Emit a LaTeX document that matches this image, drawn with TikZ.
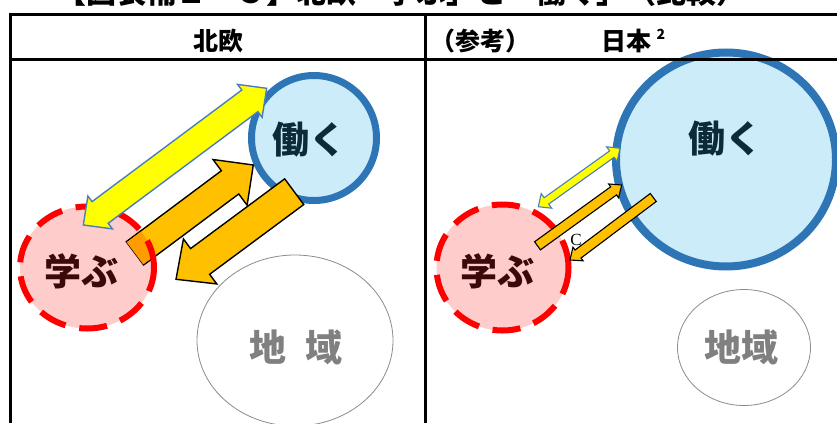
\documentclass[tikz,border=0pt]{standalone}
\usepackage{fontspec}
\newfontfamily\jp{Noto Sans CJK JP}
\newfontfamily\lserif{Liberation Serif}
\usetikzlibrary{calc,shapes.geometric}
\definecolor{workfill}{HTML}{CCECF9}
\definecolor{workline}{HTML}{2E75B6}
\definecolor{learnfill}{HTML}{FFCCCC}
\definecolor{learnline}{HTML}{FF0000}
\definecolor{arrowyel}{HTML}{FFFF00}
\definecolor{arrowyelline}{HTML}{4A7EBB}
\definecolor{arroworg}{HTML}{FFC000}
\definecolor{arroworgdark}{HTML}{FF9C00}
\definecolor{regionline}{HTML}{8C8C8C}
\definecolor{regiontext}{HTML}{808080}
\definecolor{worktext}{HTML}{0C2A3A}
\definecolor{learntext}{HTML}{3A0A0A}
% #1 prefix, #2 style, #3 start, #4 end, #5 half shaft, #6 half head, #7 head length
\newcommand{\onearrow}[7]{%
  \coordinate (#1-b) at ($(#4)!#7!(#3)$);
  \path[#2] ($(#3)!#5!90:(#4)$) -- ($(#1-b)!#5!90:(#4)$) -- ($(#1-b)!#6!90:(#4)$) -- (#4)
    -- ($(#1-b)!#6!-90:(#4)$) -- ($(#1-b)!#5!-90:(#4)$) -- ($(#3)!#5!-90:(#4)$) -- cycle;
}
\newcommand{\twoarrow}[7]{%
  \coordinate (#1-b1) at ($(#3)!#7!(#4)$);
  \coordinate (#1-b2) at ($(#4)!#7!(#3)$);
  \path[#2] (#3) -- ($(#1-b1)!#6!90:(#4)$) -- ($(#1-b1)!#5!90:(#4)$) -- ($(#1-b2)!#5!90:(#4)$)
    -- ($(#1-b2)!#6!90:(#4)$) -- (#4) -- ($(#1-b2)!#6!-90:(#4)$) -- ($(#1-b2)!#5!-90:(#4)$)
    -- ($(#1-b1)!#5!-90:(#4)$) -- ($(#1-b1)!#6!-90:(#4)$) -- cycle;
}
\tikzset{
  work/.style={ellipse, draw=workline, fill=workfill, inner sep=0pt},
  learn/.style={ellipse, fill=learnfill, inner sep=0pt},
  learnborder/.style={draw=learnline, line width=6pt, dash pattern=on 28pt off 14pt},
  region/.style={ellipse, draw=regionline, fill=white, line width=0.8pt, inner sep=0pt},
  yelarrow/.style={fill=arrowyel, draw=arrowyelline, line width=1.4pt},
  orgarrow/.style={fill=arroworg, draw=black, line width=1.4pt},
  orgdark/.style={fill=arroworgdark},
  bigtext/.style={font=\jp\bfseries\fontsize{37}{37}\selectfont, inner sep=0pt},
  headtext/.style={font=\jp\bfseries\fontsize{25}{25}\selectfont, inner sep=0pt},
}
\begin{document}
\begin{tikzpicture}[x=1pt,y=-1pt]
\useasboundingbox (0,0) rectangle (837,423);
\fill[white] (0,0) rectangle (837,423);

% title (cut off at top)
\begin{scope}
\clip (0,0) rectangle (837,7.5);
\node[font=\jp\bfseries\fontsize{30}{30}\selectfont, inner sep=0pt, anchor=base west] (title) at (56,3.5) {【図表補１－３】北欧「学ぶ」と「働く」（比較）};
\end{scope}

% ---------- left panel ----------
\node[region, minimum width=196pt, minimum height=171pt] (regionL) at (295,340.5) {};
\node[work, line width=7pt, minimum width=125pt, minimum height=125pt] (workL) at (314,138) {};
\node[learn, minimum width=134pt, minimum height=122pt] (learnL) at (87,267.5) {};
\coordinate (oaS) at (135,253.3); \coordinate (oaE) at (253.3,165);
\coordinate (obS) at (294.2,191.7); \coordinate (obE) at (176,279.3);
\coordinate (yS) at (83.3,225); \coordinate (yE) at (266.7,88.3);
\onearrow{oa}{orgarrow}{oaS}{oaE}{14.5pt}{28.5pt}{29pt}
\onearrow{ob}{orgarrow}{obS}{obE}{16pt}{28pt}{30pt}
\begin{scope}
\clip (learnL.center) ellipse [x radius=67pt, y radius=61pt];
\onearrow{oad}{orgdark}{oaS}{oaE}{13.8pt}{28.5pt}{29pt}
\end{scope}
\draw[learnborder] (learnL.center) ellipse [x radius=67pt, y radius=61pt];
\twoarrow{ya}{yelarrow}{yS}{yE}{13.5pt}{20.5pt}{21pt}

\node[bigtext, text=worktext] (workLt) at (309,140) {働く};
\node[bigtext, text=learntext] (learnLt) at (81,271) {学ぶ};
\node[bigtext, text=regiontext] (regionLt) at (296,347.5) {地\hspace{19pt}域};

% ---------- right panel ----------
\node[region, minimum width=133pt, minimum height=116pt] (regionR) at (744,347.5) {};
\node[work, line width=8pt, minimum width=220pt, minimum height=214pt] (workR) at (726,159.5) {};
\node[learn, minimum width=132pt, minimum height=126pt] (learnR) at (502.5,267.5) {};
\draw[learnborder] (learnR.center) ellipse [x radius=66pt, y radius=63pt];
\coordinate (ryS) at (538.3,206.7); \coordinate (ryE) at (620,148.3);
\coordinate (raS) at (537.5,245.8); \coordinate (raE) at (621.7,185);
\coordinate (rbS) at (653.3,197.5); \coordinate (rbE) at (570,260);
\twoarrow{ry}{yelarrow, line width=1.1pt}{ryS}{ryE}{3.9pt}{9pt}{10pt}
\onearrow{ra}{orgarrow, line width=1.1pt}{raS}{raE}{5pt}{8.5pt}{10pt}
\onearrow{rb}{orgarrow, line width=1.1pt}{rbS}{rbE}{5pt}{8.5pt}{10pt}

\node[bigtext, text=worktext] (workRt) at (725,139) {働く};
\node[bigtext, text=learntext] (learnRt) at (497,271) {学ぶ};
\node[bigtext, text=regiontext] (regionRt) at (741,347.5) {地域};
\node[font=\lserif\fontsize{17}{17}\selectfont, inner sep=0pt] (clabel) at (576,240) {C};

% ---------- table ----------
\draw[line width=2.4pt] (9,14.5) -- (837,14.5);
\draw[line width=3.5pt] (9,59.5) -- (837,59.5);
\draw[line width=3pt] (10.5,13.3) -- (10.5,423);
\draw[line width=2.5pt] (425.5,14.5) -- (425.5,423);

\node[headtext] (hNorth) at (218,41) {北欧};
\node[headtext, anchor=west] (hRef) at (430,41) {（参考）};
\node[headtext] (hJapan) at (626,41) {日本};
\node[font=\jp\bfseries\fontsize{14}{14}\selectfont, inner sep=0pt] (hNote) at (661,34) {2};
\end{tikzpicture}
\end{document}
